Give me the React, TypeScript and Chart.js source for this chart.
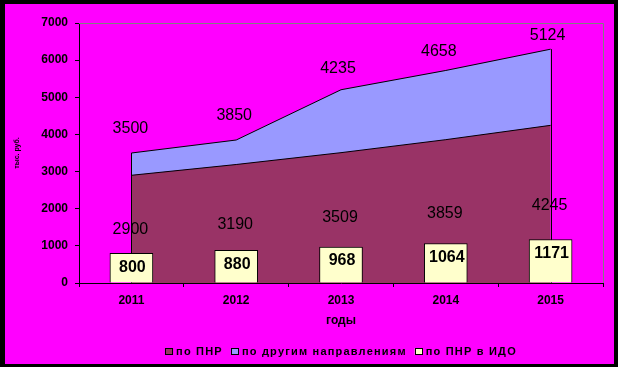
import React, { useEffect, useRef } from "react";
import { Chart, registerables } from "chart.js";

Chart.register(...registerables);

// ---- data ----
const years = ["2011", "2012", "2013", "2014", "2015"];
const pnr = [2900, 3190, 3509, 3859, 4245]; // по ПНР (lower area)
const otherTop = [3500, 3850, 5203, 5722, 6295]; // upper edge of "по другим направлениям" area
const otherLabels = [3500, 3850, 4235, 4658, 5124]; // labels shown above upper area
const pnrIdo = [800, 880, 968, 1064, 1171]; // по ПНР в ИДО (boxes)
const yMin = 0;
const yMax = 7000;
const yStep = 1000;

const legendNames = ["по ПНР", "по другим направлениям", "по ПНР в ИДО"];

// ---- styles ----
const FONT = "'Liberation Sans', Arial, sans-serif";
const MAGENTA = "#FF00FF";
const C_PNR = "#993366";
const C_OTHER = "#9999FF";
const C_IDO = "#FFFFCC";
const legendColors = [C_PNR, C_OTHER, C_IDO];

// label offsets (px) relative to their anchor points
const topDx = [-1, -2, -3, -7, -3];
const topDy = [-24, -24, -21, -19, -14];
const lowDy = [-24, -26, -29, -30, -34];

const framePlugin = {
  id: "frame",
  beforeDraw(chart: any) {
    const { ctx, width, height } = chart;
    ctx.save();
    ctx.fillStyle = "#000";
    ctx.fillRect(0, 0, width, height);
    ctx.fillStyle = MAGENTA;
    ctx.fillRect(5, 4, 609, 360);
    ctx.restore();
  },
  beforeDatasetsDraw(chart: any) {
    const { ctx, chartArea } = chart;
    ctx.save();
    ctx.strokeStyle = "#808080";
    ctx.lineWidth = 1;
    ctx.beginPath();
    ctx.moveTo(chartArea.left, Math.round(chartArea.top) + 0.5);
    ctx.lineTo(Math.round(chartArea.right) + 0.5, Math.round(chartArea.top) + 0.5);
    ctx.lineTo(Math.round(chartArea.right) + 0.5, chartArea.bottom);
    ctx.stroke();
    ctx.restore();
  },
  afterDatasetDraw(chart: any, args: any) {
    // vertical edges of the stacked area, drawn before the boxes
    if (args.index !== 1) return;
    const { ctx } = chart;
    const x = chart.scales.x;
    const y = chart.scales.y;
    ctx.save();
    ctx.strokeStyle = "#000";
    ctx.lineWidth = 1;
    [0, years.length - 1].forEach((i) => {
      const px = Math.round(x.getPixelForValue(i)) + 0.5;
      ctx.beginPath();
      ctx.moveTo(px, y.getPixelForValue(0));
      ctx.lineTo(px, y.getPixelForValue(otherTop[i]));
      ctx.stroke();
    });
    ctx.restore();
  },
  afterDatasetsDraw(chart: any) {
    const { ctx } = chart;
    const x = chart.scales.x;
    const y = chart.scales.y;
    ctx.save();
    ctx.fillStyle = "#000";
    ctx.textAlign = "center";
    ctx.textBaseline = "middle";
    ctx.font = `16px ${FONT}`;
    years.forEach((_, i) => {
      const px = x.getPixelForValue(i);
      ctx.fillText(String(otherLabels[i]), px + topDx[i], y.getPixelForValue(otherTop[i]) + topDy[i]);
      ctx.fillText(String(pnr[i]), px - 1, y.getPixelForValue(pnrIdo[i]) + lowDy[i]);
    });
    ctx.font = `bold 16px ${FONT}`;
    years.forEach((_, i) => {
      const px = x.getPixelForValue(i);
      ctx.fillText(String(pnrIdo[i]), px + 1, y.getPixelForValue(pnrIdo[i]) + 14);
    });
    ctx.restore();
  },
  afterDraw(chart: any) {
    // legend
    const { ctx, chartArea } = chart;
    ctx.save();
    ctx.font = `bold 11px ${FONT}`;
    (ctx as any).letterSpacing = "1.2px";
    ctx.textBaseline = "middle";
    ctx.textAlign = "left";
    const box = 8;
    const gapBox = 3;
    const gapItem = 8;
    const widths = legendNames.map((t) => ctx.measureText(t).width);
    const total = widths.reduce((a, w) => a + box + gapBox + w, 0) + gapItem * (legendNames.length - 1);
    let cx = (chartArea.left + chartArea.right) / 2 - total / 2;
    const cy = 352;
    legendNames.forEach((t, i) => {
      ctx.fillStyle = legendColors[i];
      ctx.fillRect(cx, cy - 4, box, box - 1);
      ctx.strokeStyle = "#000";
      ctx.lineWidth = 1;
      ctx.strokeRect(Math.round(cx) + 0.5, cy - 4 + 0.5, box - 1, box - 2);
      cx += box + gapBox;
      ctx.fillStyle = "#000";
      ctx.fillText(t, cx, cy);
      cx += widths[i] + gapItem;
    });
    ctx.restore();
  },
};

export default function App() {
  const ref = useRef<HTMLCanvasElement>(null);

  useEffect(() => {
    if (!ref.current) return;
    const chart = new Chart(ref.current, {
      type: "bar",
      data: {
        labels: years,
        datasets: [
          {
            type: "bar",
            label: legendNames[2],
            data: pnrIdo,
            backgroundColor: C_IDO,
            borderColor: "#000",
            borderWidth: 1,
            barThickness: 43,
          } as any,
          {
            type: "line",
            label: legendNames[0],
            data: pnr,
            backgroundColor: C_PNR,
            borderColor: "#000",
            borderWidth: 1,
            pointRadius: 0,
            tension: 0,
            fill: "origin",
          } as any,
          {
            type: "line",
            label: legendNames[1],
            data: otherTop,
            backgroundColor: C_OTHER,
            borderColor: "#000",
            borderWidth: 1,
            pointRadius: 0,
            tension: 0,
            fill: "-1",
          } as any,
        ],
      },
      options: {
        responsive: false,
        animation: false,
        devicePixelRatio: 1,
        layout: { padding: { top: 23, right: 15, bottom: 0, left: 0 } },
        plugins: {
          legend: { display: false },
          tooltip: { enabled: false },
        },
        scales: {
          x: {
            type: "category",
            offset: true,
            grid: {
              offset: true,
              drawOnChartArea: false,
              drawTicks: true,
              tickLength: 4,
              color: "#000",
            },
            border: { display: true, color: "#000", width: 1 },
            ticks: {
              color: "#000",
              font: { family: FONT, size: 12, weight: "bold" },
              padding: 6,
              maxRotation: 0,
            },
            title: {
              display: true,
              text: "годы",
              color: "#000",
              font: { family: FONT, size: 12, weight: "bold" },
              padding: { top: 0, bottom: 39 },
            },
            afterFit(scale: any) {
              scale.height = 84;
            },
          },
          y: {
            min: yMin,
            max: yMax,
            grid: {
              drawOnChartArea: false,
              drawTicks: true,
              tickLength: 4,
              color: "#000",
            },
            border: { display: true, color: "#000", width: 1 },
            ticks: {
              stepSize: yStep,
              color: "#000",
              font: { family: FONT, size: 12, weight: "bold" },
              padding: 7,
              callback: (v: any) => String(v),
            },
            title: {
              display: true,
              text: "тыс. руб.",
              color: "#000",
              font: { family: FONT, size: 7, weight: "bold" },
              padding: { top: 13, bottom: 0 },
            },
            afterFit(scale: any) {
              scale.width = 79;
            },
          },
        },
      },
      plugins: [framePlugin],
    });
    return () => chart.destroy();
  }, []);

  return (
    <div style={{ position: "fixed", left: 0, top: 0, width: 618, height: 367 }}>
      <canvas ref={ref} width={618} height={367} style={{ display: "block", width: 618, height: 367 }} />
    </div>
  );
}
